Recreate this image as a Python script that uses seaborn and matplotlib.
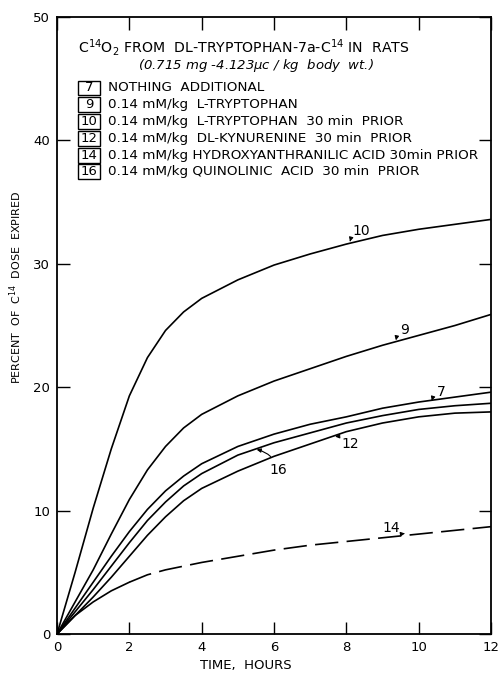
import numpy as np
import pandas as pd
import matplotlib
matplotlib.use("Agg")
import matplotlib.pyplot as plt
from matplotlib.patches import Rectangle
import seaborn as sns

# hours after dose
hours = [0, 0.5, 1, 1.5, 2, 2.5, 3, 3.5, 4, 5, 6, 7, 8, 9, 10, 11, 12]

# percent of C14 dose expired
curve_10 = [0, 5.0, 10.2, 15.0, 19.3, 22.4, 24.6, 26.1, 27.2, 28.7, 29.9, 30.8, 31.6, 32.3, 32.8, 33.2, 33.6]
curve_9 = [0, 2.6, 5.2, 8.1, 10.9, 13.3, 15.2, 16.7, 17.8, 19.3, 20.5, 21.5, 22.5, 23.4, 24.2, 25.0, 25.9]
curve_7 = [0, 2.1, 4.2, 6.3, 8.3, 10.1, 11.6, 12.8, 13.8, 15.2, 16.2, 17.0, 17.6, 18.3, 18.8, 19.2, 19.6]
curve_16 = [0, 1.8, 3.6, 5.5, 7.4, 9.2, 10.7, 12.0, 13.0, 14.5, 15.5, 16.3, 17.1, 17.7, 18.2, 18.5, 18.7]
curve_12 = [0, 1.5, 3.0, 4.6, 6.3, 8.0, 9.5, 10.8, 11.8, 13.2, 14.4, 15.4, 16.4, 17.1, 17.6, 17.9, 18.0]
curve_14 = [0, 1.5, 2.6, 3.5, 4.2, 4.8, 5.2, 5.5, 5.8, 6.3, 6.8, 7.2, 7.5, 7.8, 8.1, 8.4, 8.7]

legend_ids = ["7", "9", "10", "12", "14", "16"]
legend_text = [
    "NOTHING  ADDITIONAL",
    "0.14 mM/kg  L-TRYPTOPHAN",
    "0.14 mM/kg  L-TRYPTOPHAN  30 min  PRIOR",
    "0.14 mM/kg  DL-KYNURENINE  30 min  PRIOR",
    "0.14 mM/kg HYDROXYANTHRANILIC ACID 30min PRIOR",
    "0.14 mM/kg QUINOLINIC  ACID  30 min  PRIOR",
]

# curve label text, label position, arrow tip (data coords)
curve_labels = [
    ("10", (8.42, 32.7), (8.1, 31.8)),
    ("9", (9.62, 24.6), (9.37, 23.8)),
    ("7", (10.63, 19.6), (10.36, 18.9)),
    ("12", (8.1, 15.4), (7.69, 16.0)),
    ("16", (6.12, 13.3), (5.52, 14.95)),
    ("14", (9.25, 8.6), (9.62, 8.15)),
]

sns.set_theme(style="ticks")
plt.rcParams['font.family'] = ['DejaVu Sans']
plt.rcParams['mathtext.fontset'] = 'dejavusans'
plt.rcParams['text.color'] = 'black'
plt.rcParams['axes.labelcolor'] = 'black'

fig = plt.figure(figsize=(4.98, 6.76), dpi=100)
ax = fig.add_axes([0.1145, 0.0621, 0.8715, 0.9127])

solid = {"10": curve_10, "9": curve_9, "7": curve_7, "16": curve_16, "12": curve_12}
for name, vals in solid.items():
    sns.lineplot(x=hours, y=vals, color="black", linewidth=1.2, ax=ax, sort=False)

# curve 14 starts solid, then dashed
df14 = pd.DataFrame({"t": hours, "v": curve_14})
early = df14[df14["t"] <= 2]
late = df14[df14["t"] >= 2]
sns.lineplot(data=early, x="t", y="v", color="black", linewidth=1.2, ax=ax)
ax.plot(late["t"], late["v"], color="black", linewidth=1.2, dashes=(14, 5))

for lab, txt_pos, tip in curve_labels:
    ax.annotate(lab, xy=tip, xytext=txt_pos, fontsize=10, ha="center", va="center",
                arrowprops=dict(arrowstyle="-|>", color="black", lw=0.8,
                                mutation_scale=6, shrinkA=3, shrinkB=0,
                                connectionstyle="arc3,rad=0.3"))

# header text
ax.text(0.048, 0.951, r"C$^{14}$O$_2$ FROM  DL-TRYPTOPHAN-7a-C$^{14}$ IN  RATS",
        transform=ax.transAxes, fontsize=10.2, va="center", ha="left")
ax.text(0.459, 0.921, r"(0.715 mg -4.123$\mu$c / kg  body  wt.)",
        transform=ax.transAxes, fontsize=9.5, va="center", ha="center", style="italic")

row_y0 = 0.885
row_step = 0.0272
for i, (num, txt) in enumerate(zip(legend_ids, legend_text)):
    yc = row_y0 - i * row_step
    ax.add_patch(Rectangle((0.048, yc - 0.012), 0.052, 0.024, transform=ax.transAxes,
                           fill=False, edgecolor="black", linewidth=1.0))
    ax.text(0.074, yc, num, transform=ax.transAxes, fontsize=9.5, ha="center", va="center")
    ax.text(0.117, yc, txt, transform=ax.transAxes, fontsize=9.7, ha="left", va="center")

ax.set_xlim(0, 12)
ax.set_ylim(0, 50)
ax.set_xticks([0, 2, 4, 6, 8, 10, 12])
ax.set_yticks([0, 10, 20, 30, 40, 50])
ax.tick_params(direction="in", length=9, width=1.0, top=True, right=True,
               labelsize=9.5, colors="black", pad=5)
for s in ax.spines.values():
    s.set_linewidth(1.3)
    s.set_color("black")
ax.set_xlabel("TIME,  HOURS", fontsize=9.5)
ax.set_ylabel(r"PERCENT  OF  C$^{14}$  DOSE  EXPIRED", fontsize=8)
ax.xaxis.set_label_coords(0.435, -0.04)
ax.yaxis.set_label_coords(-0.075, 0.562)

fig.savefig("out.png", dpi=100)
